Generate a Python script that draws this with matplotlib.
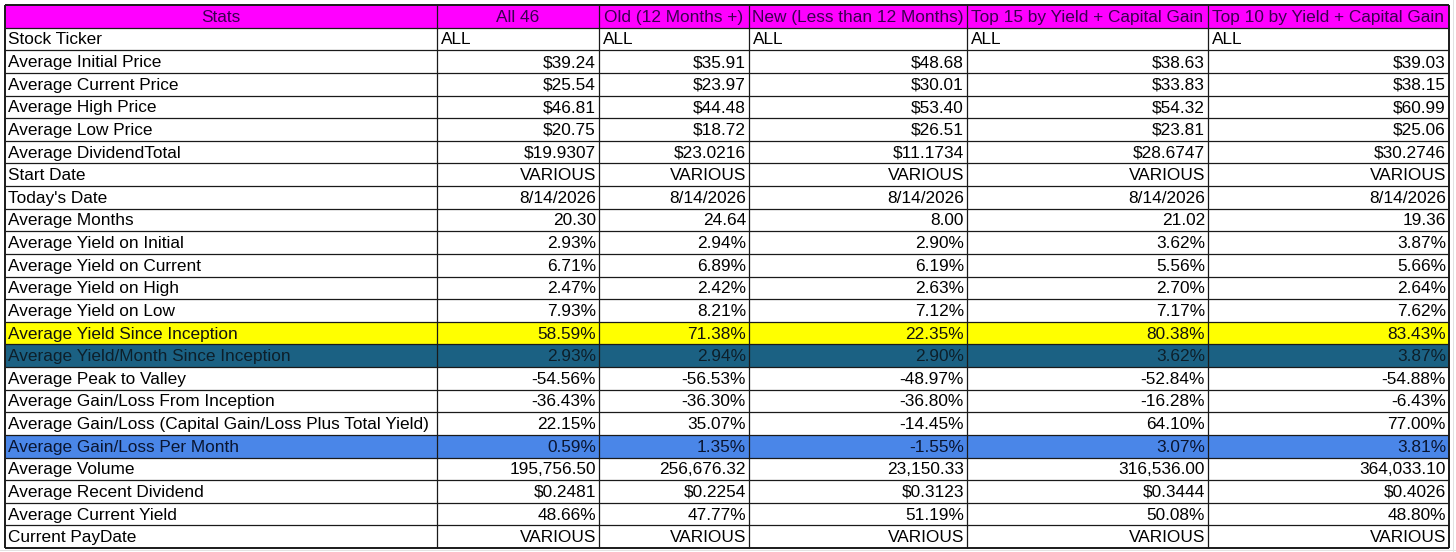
import matplotlib
matplotlib.use("Agg")
import matplotlib.pyplot as plt
from matplotlib.patches import Rectangle

plt.rcParams['font.family'] = ['Liberation Sans', 'DejaVu Sans']

# table content
headers = ["Stats", "All 46", "Old (12 Months +)", "New (Less than 12 Months)",
           "Top 15 by Yield + Capital Gain", "Top 10 by Yield + Capital Gain"]

row_labels = [
    "Stock Ticker", "Average Initial Price", "Average Current Price", "Average High Price",
    "Average Low Price", "Average DividendTotal", "Start Date", "Today's Date",
    "Average Months", "Average Yield on Initial", "Average Yield on Current",
    "Average Yield on High", "Average Yield on Low", "Average Yield Since Inception",
    "Average Yield/Month Since Inception", "Average Peak to Valley",
    "Average Gain/Loss From Inception",
    "Average Gain/Loss (Capital Gain/Loss Plus Total Yield)",
    "Average Gain/Loss Per Month", "Average Volume", "Average Recent Dividend",
    "Average Current Yield", "Current PayDate",
]

all_46 = ["ALL", "$39.24", "$25.54", "$46.81", "$20.75", "$19.9307", "VARIOUS", "8/14/2026",
          "20.30", "2.93%", "6.71%", "2.47%", "7.93%", "58.59%", "2.93%", "-54.56%",
          "-36.43%", "22.15%", "0.59%", "195,756.50", "$0.2481", "48.66%", "VARIOUS"]
old_12 = ["ALL", "$35.91", "$23.97", "$44.48", "$18.72", "$23.0216", "VARIOUS", "8/14/2026",
          "24.64", "2.94%", "6.89%", "2.42%", "8.21%", "71.38%", "2.94%", "-56.53%",
          "-36.30%", "35.07%", "1.35%", "256,676.32", "$0.2254", "47.77%", "VARIOUS"]
new_12 = ["ALL", "$48.68", "$30.01", "$53.40", "$26.51", "$11.1734", "VARIOUS", "8/14/2026",
          "8.00", "2.90%", "6.19%", "2.63%", "7.12%", "22.35%", "2.90%", "-48.97%",
          "-36.80%", "-14.45%", "-1.55%", "23,150.33", "$0.3123", "51.19%", "VARIOUS"]
top_15 = ["ALL", "$38.63", "$33.83", "$54.32", "$23.81", "$28.6747", "VARIOUS", "8/14/2026",
          "21.02", "3.62%", "5.56%", "2.70%", "7.17%", "80.38%", "3.62%", "-52.84%",
          "-16.28%", "64.10%", "3.07%", "316,536.00", "$0.3444", "50.08%", "VARIOUS"]
top_10 = ["ALL", "$39.03", "$38.15", "$60.99", "$25.06", "$30.2746", "VARIOUS", "8/14/2026",
          "19.36", "3.87%", "5.66%", "2.64%", "7.62%", "83.43%", "3.87%", "-54.88%",
          "-6.43%", "77.00%", "3.81%", "364,033.10", "$0.4026", "48.80%", "VARIOUS"]

columns = [all_46, old_12, new_12, top_15, top_10]

# layout in pixels
W, H = 1456, 552
col_edges = [5, 437, 599, 749, 967, 1208, 1449]
top, bottom = 5, 548
n_rows = len(row_labels) + 1
row_h = (bottom - top) / n_rows

highlight = {
    "Average Yield Since Inception": ("#ffff00", "#111111"),
    "Average Yield/Month Since Inception": ("#1b6183", "#0d1f2a"),
    "Average Gain/Loss Per Month": ("#4a86e8", "#0a1530"),
}

fig = plt.figure(figsize=(W / 100, H / 100), dpi=100)
ax = fig.add_axes([0, 0, 1, 1])
ax.set_xlim(0, W)
ax.set_ylim(H, 0)
ax.axis('off')

# faint spreadsheet grid outside the table
ax.plot([1453, 1453], [0, H], color="#e2e2e2", lw=0.7)
ax.plot([0, W], [bottom + 2, bottom + 2], color="#e2e2e2", lw=0.7)

fs = 12.4

# header row
ax.add_patch(Rectangle((col_edges[0], top), col_edges[-1] - col_edges[0], row_h,
                       facecolor="#ff00ff", edgecolor="none"))
for j, h in enumerate(headers):
    xc = (col_edges[j] + col_edges[j + 1]) / 2
    ax.text(xc, top + row_h / 2 + 1, h, ha="center", va="center", fontsize=fs, color="#3a0050")

# body rows
for i, label in enumerate(row_labels):
    y0 = top + (i + 1) * row_h
    yc = y0 + row_h / 2 + 1
    fc, tc = highlight.get(label, (None, "#000000"))
    if fc:
        ax.add_patch(Rectangle((col_edges[0], y0), col_edges[-1] - col_edges[0], row_h,
                               facecolor=fc, edgecolor="none"))
    ax.text(col_edges[0] + 3, yc, label, ha="left", va="center", fontsize=fs, color=tc)
    for j, col in enumerate(columns):
        val = col[i]
        if i == 0:
            ax.text(col_edges[j + 1] + 4, yc, val, ha="left", va="center", fontsize=fs, color=tc)
        else:
            ax.text(col_edges[j + 2] - 3, yc, val, ha="right", va="center", fontsize=fs, color=tc)

# grid lines
for i in range(n_rows + 1):
    y = top + i * row_h
    lw = 1.4 if i in (0, n_rows) else 0.9
    ax.plot([col_edges[0], col_edges[-1]], [y, y], color="#1a1a1a", lw=lw, solid_capstyle="butt")
for k, x in enumerate(col_edges):
    lw = 1.4 if k in (0, len(col_edges) - 1) else 0.9
    ax.plot([x, x], [top, bottom], color="#1a1a1a", lw=lw, solid_capstyle="butt")

fig.savefig("out.png", dpi=100)
